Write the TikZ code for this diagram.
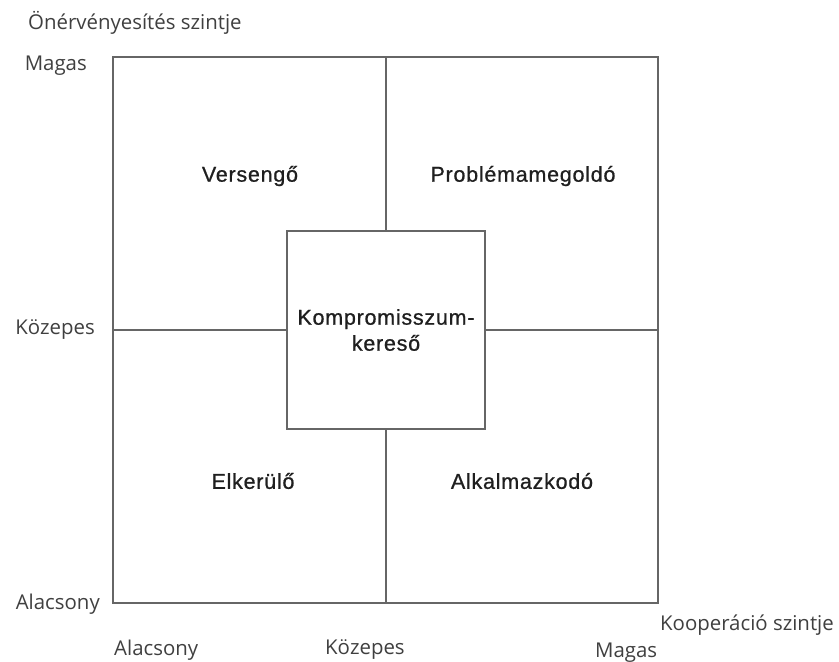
\documentclass[tikz,border=0pt]{standalone}
\usepackage{fontspec}
\setmainfont{Open Sans}
\newfontfamily\quadfont[LetterSpace=3.5,FakeBold=0.8]{Liberation Sans}
\begin{document}
\begin{tikzpicture}[x=1pt,y=-1pt,
  axislab/.style={font=\fontsize{20.4}{24}\selectfont, text=black!75, inner sep=0pt},
  quadlab/.style={font=\quadfont\fontsize{21.5}{26}\selectfont, text=black!88, inner sep=0pt, align=center},
  gridline/.style={draw=black!60, line width=1.6pt}]
\useasboundingbox (0,0) rectangle (839,662);
\fill[white] (0,0) rectangle (839,662);
\coordinate (tl) at (113,57);
\coordinate (br) at (658,603);
\coordinate (tm) at (386,57);
\coordinate (bm) at (386,603);
\coordinate (lm) at (113,330);
\coordinate (rm) at (658,330);
\draw[gridline] (tl) rectangle (br);
\node[gridline, fill=white, minimum width=198pt, minimum height=198pt, inner sep=0pt] (center) at (386,330) {};
\draw[gridline] (tm) -- (center.north);
\draw[gridline] (center.south) -- (bm);
\draw[gridline] (lm) -- (center.west);
\draw[gridline] (center.east) -- (rm);
\node[quadlab] (komp) at (386,330) {Kompromisszum-\\kereső};
\node[quadlab] (vers) at (250,176) {Versengő};
\node[quadlab] (prob) at (523,176) {Problémamegoldó};
\node[quadlab] (elk) at (253,481) {Elkerülő};
\node[quadlab] (alk) at (522,481) {Alkalmazkodó};
\node[axislab, anchor=west] (ytitle) at (28,23) {Önérvényesítés szintje};
\node[axislab, anchor=east] (ymag) at (87,66) {Magas};
\node[axislab, anchor=east] (ykoz) at (95,330) {Közepes};
\node[axislab, anchor=east] (yala) at (100,604) {Alacsony};
\node[axislab, anchor=west] (xala) at (114,650) {Alacsony};
\node[axislab, anchor=west] (xkoz) at (325,650) {Közepes};
\node[axislab, anchor=west] (xmag) at (595,653) {Magas};
\node[axislab, anchor=west] (xtitle) at (660,625) {Kooperáció szintje};
\end{tikzpicture}
\end{document}
